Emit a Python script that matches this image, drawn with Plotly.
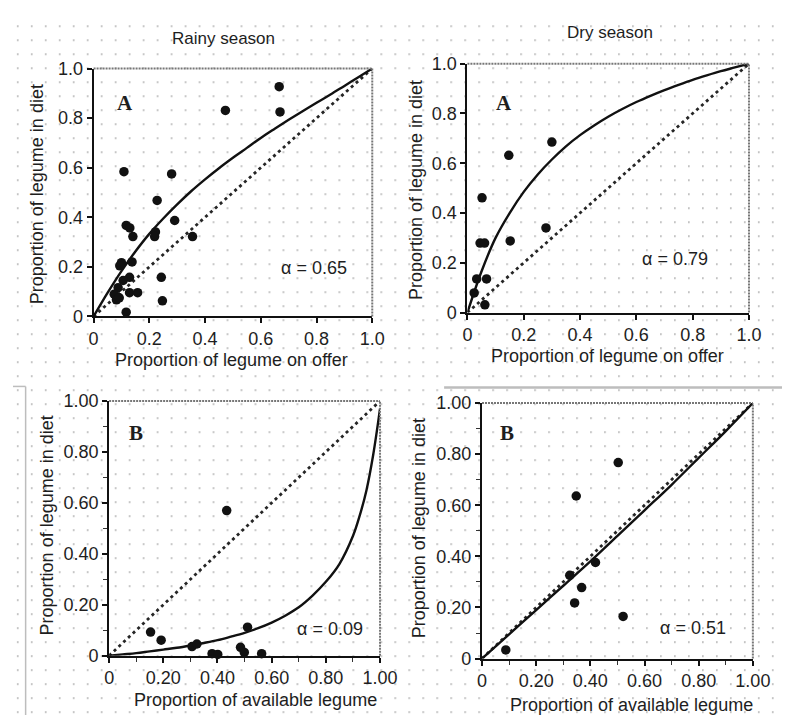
import base64
import plotly.graph_objects as go

W, H = 792, 717

# ---------------- data ----------------
rainy_offer = [0.666, 0.473, 0.669, 0.109, 0.280, 0.228, 0.117, 0.130, 0.141, 0.291,
               0.222, 0.219, 0.355, 0.100, 0.094, 0.138, 0.129, 0.243, 0.106, 0.088,
               0.129, 0.158, 0.074, 0.082, 0.247, 0.117, 0.092]
rainy_diet = [0.927, 0.831, 0.825, 0.584, 0.575, 0.468, 0.367, 0.357, 0.322, 0.387,
              0.341, 0.322, 0.322, 0.217, 0.204, 0.220, 0.158, 0.158, 0.145, 0.116,
              0.096, 0.096, 0.090, 0.067, 0.063, 0.017, 0.075]

dry_offer = [0.300, 0.147, 0.052, 0.045, 0.061, 0.152, 0.279, 0.033, 0.068, 0.024, 0.062]
dry_diet = [0.685, 0.632, 0.461, 0.279, 0.279, 0.288, 0.340, 0.135, 0.135, 0.079, 0.031]

rainyB_avail = [0.434, 0.153, 0.192, 0.306, 0.324, 0.511, 0.380, 0.401, 0.485, 0.499, 0.563]
rainyB_diet = [0.570, 0.093, 0.061, 0.036, 0.046, 0.112, 0.008, 0.005, 0.033, 0.013, 0.008]

dryB_avail = [0.503, 0.348, 0.324, 0.419, 0.368, 0.342, 0.521, 0.088]
dryB_diet = [0.767, 0.636, 0.326, 0.376, 0.278, 0.218, 0.165, 0.034]

# fitted preference curves
curve_x = [0, 0.05, 0.1, 0.15, 0.2, 0.25, 0.3, 0.35, 0.4, 0.45, 0.5,
           0.55, 0.6, 0.65, 0.7, 0.75, 0.8, 0.85, 0.9, 0.95, 1.0]
curveA_rainy_y = [0, 0.095, 0.183, 0.262, 0.333, 0.395, 0.452, 0.505, 0.553, 0.598, 0.64,
                  0.68, 0.72, 0.757, 0.793, 0.828, 0.862, 0.895, 0.93, 0.965, 1.0]
curveA_dry_y = [0, 0.165, 0.30, 0.40, 0.485, 0.555, 0.615, 0.668, 0.713, 0.752, 0.787,
                0.818, 0.846, 0.871, 0.894, 0.915, 0.935, 0.953, 0.97, 0.985, 1.0]
curveB_rainy_x = [0, 0.05, 0.1, 0.15, 0.2, 0.25, 0.3, 0.35, 0.4, 0.45, 0.5, 0.55, 0.6,
                  0.65, 0.7, 0.75, 0.8, 0.85, 0.9, 0.925, 0.95, 0.975, 1.0]
curveB_rainy_y = [0, 0.005, 0.01, 0.017, 0.024, 0.031, 0.04, 0.05, 0.061, 0.075, 0.09, 0.108,
                  0.13, 0.157, 0.19, 0.235, 0.29, 0.36, 0.47, 0.55, 0.65, 0.79, 0.97]
curveB_dry_x = [0, 0.1, 0.2, 0.3, 0.4, 0.5, 0.6, 0.7, 0.8, 0.9, 1.0]
curveB_dry_y = [0, 0.095, 0.19, 0.285, 0.38, 0.48, 0.58, 0.68, 0.785, 0.89, 1.0]

one_to_one = [0, 1]

ticks_A = [0, 0.2, 0.4, 0.6, 0.8, 1.0]
ticktext_A = ["0", "0.2", "0.4", "0.6", "0.8", "1.0"]
ticktext_B = ["0", "0.20", "0.40", "0.60", "0.80", "1.00"]

alpha_labels = ["α = 0.65", "α = 0.79", "α = 0.09", "α = 0.51"]
panel_letters = ["A", "A", "B", "B"]
season_titles = ["Rainy season", "Dry season"]
xtitle_A = "Proportion of legume on offer"
xtitle_B = "Proportion of available legume"
ytitle = "Proportion of legume in diet"

# ---------------- layout geometry (pixels) ----------------
# (left, right, top, bottom) of each plot area
boxes = [(83, 370, 52, 307), (468, 758, 47, 303), (99, 378, 394, 656), (483, 762, 396, 659)]


def dom_x(l, r):
    return [l / W, r / W]


def dom_y(t, b):
    return [1 - b / H, 1 - t / H]


fig = go.Figure()

panels = [
    (rainy_offer, rainy_diet, curve_x, curveA_rainy_y),
    (dry_offer, dry_diet, curve_x, curveA_dry_y),
    (rainyB_avail, rainyB_diet, curveB_rainy_x, curveB_rainy_y),
    (dryB_avail, dryB_diet, curveB_dry_x, curveB_dry_y),
]

FONT = "Liberation Sans, Arial, sans-serif"
TXT = "#1e1e1e"

for i, (px, py, cx, cy) in enumerate(panels):
    n = "" if i == 0 else str(i + 1)
    xa, ya = "x" + n, "y" + n
    fig.add_trace(go.Scatter(x=one_to_one, y=one_to_one, mode="lines", xaxis=xa, yaxis=ya,
                             line=dict(color="#262626", width=2.8, dash="3px,3.5px"),
                             hoverinfo="skip"))
    fig.add_trace(go.Scatter(x=cx, y=cy, mode="lines", xaxis=xa, yaxis=ya,
                             line=dict(color="#111", width=2.4, shape="spline", smoothing=1.0),
                             hoverinfo="skip"))
    fig.add_trace(go.Scatter(x=px, y=py, mode="markers", xaxis=xa, yaxis=ya,
                             marker=dict(color="#111", size=9.5), cliponaxis=False))

    l, r, t, b = boxes[i]
    isB = i >= 2
    common = dict(range=[0, 1], showgrid=False, zeroline=False, showline=True,
                  linecolor="#111", linewidth=2, ticks="outside", ticklen=5,
                  tickwidth=1.5, tickcolor="#111", tickvals=ticks_A,
                  ticktext=ticktext_B if isB else ticktext_A,
                  tickfont=dict(family=FONT, size=18, color=TXT), fixedrange=True)
    if isB:
        common["minor"] = dict(dtick=0.1, ticks="outside", ticklen=4, tickwidth=1.2,
                               tickcolor="#333", showgrid=False)
    fig.update_layout(**{
        ("xaxis" + n): dict(domain=dom_x(l, r), anchor=ya, **common),
        ("yaxis" + n): dict(domain=dom_y(t, b), anchor=xa, **common),
    })
    # top and right borders (grey)
    for x0, y0, x1, y1 in [(0, 1, 1, 1), (1, 0, 1, 1)]:
        fig.add_shape(type="line", xref=xa + " domain", yref=ya + " domain",
                      x0=x0, y0=y0, x1=x1, y1=y1,
                      line=dict(color="#777", width=2, dash="2px,1px"))

# in-panel annotations (data coords)
letter_pos = [(0.111, 0.863), (0.131, 0.844), (0.10, 0.874), (0.093, 0.882)]
alpha_pos = [(0.791, 0.196), (0.738, 0.215), (0.817, 0.103), (0.778, 0.118)]
for i in range(4):
    n = "" if i == 0 else str(i + 1)
    fig.add_annotation(x=letter_pos[i][0], y=letter_pos[i][1], xref="x" + n, yref="y" + n,
                       text="<b>" + panel_letters[i] + "</b>", showarrow=False,
                       font=dict(family="Liberation Serif, Times New Roman, serif", size=21, color=TXT))
    fig.add_annotation(x=alpha_pos[i][0], y=alpha_pos[i][1], xref="x" + n, yref="y" + n,
                       text=alpha_labels[i], showarrow=False,
                       font=dict(family=FONT, size=18, color=TXT))

# titles (pixel positions converted to paper)
def ann_px(text, x, y, size, angle=0):
    fig.add_annotation(x=x / W, y=1 - y / H, xref="paper", yref="paper", text=text,
                       showarrow=False, textangle=angle, xanchor="center", yanchor="middle",
                       font=dict(family=FONT, size=size, color=TXT))


ann_px(season_titles[0], 217, 21, 17)
ann_px(season_titles[1], 615, 15, 17)
ann_px(xtitle_A, 225, 352, 18)
ann_px(xtitle_A, 612, 348, 18)
ann_px(xtitle_B, 250, 702, 18)
ann_px(xtitle_B, 637, 707, 18)
ann_px(ytitle, 25, 181, 18, -90)
ann_px(ytitle, 415, 177, 18, -90)
ann_px(ytitle, 35, 522, 18, -90)
ann_px(ytitle, 418, 525, 18, -90)

# stray frame lines from the original page
frame_lines = [(13, 379, 13, 717, 1.5), (0, 379, 13, 379, 1.5), (444, 380, 792, 380, 2.5)]
for x0, y0, x1, y1, w in frame_lines:
    fig.add_shape(type="line", xref="paper", yref="paper", x0=x0 / W, y0=1 - y0 / H,
                  x1=x1 / W, y1=1 - y1 / H, line=dict(color="#bdbdbd", width=w))

# dotted page background
svg = ('<svg xmlns="http://www.w3.org/2000/svg" width="792" height="717">'
       '<defs><pattern id="p" x="4" y="7.5" width="14.4" height="14.4" patternUnits="userSpaceOnUse">'
       '<circle cx="0.9" cy="0.9" r="0.9" fill="#a8a8a8"/></pattern></defs>'
       '<rect width="792" height="717" fill="url(#p)"/></svg>')
src = "data:image/svg+xml;base64," + base64.b64encode(svg.encode()).decode()
fig.add_layout_image(source=src, xref="paper", yref="paper", x=0, y=1, sizex=1, sizey=1,
                     xanchor="left", yanchor="top", sizing="stretch", layer="below")

fig.update_layout(width=W, height=H, margin=dict(l=0, r=0, t=0, b=0),
                  paper_bgcolor="white", plot_bgcolor="rgba(0,0,0,0)", showlegend=False)

fig.write_html("out.html")
